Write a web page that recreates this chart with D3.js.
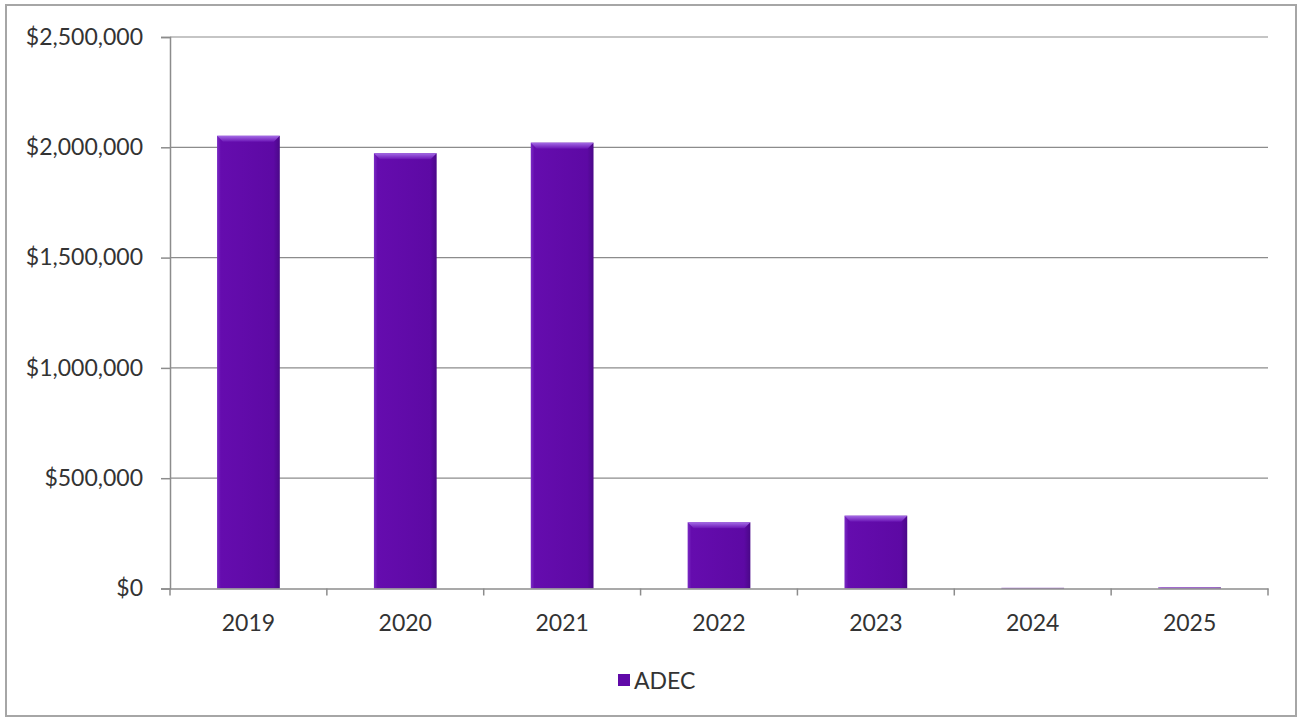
<!DOCTYPE html>
<html><head><meta charset="utf-8">
<script src="https://cdn.jsdelivr.net/npm/d3@7"></script>
<style>body{margin:0;background:#fff}svg{display:block}text{font-family:Lato,"Open Sans",sans-serif}</style>
</head><body>
<svg id="c" width="1297" height="719"></svg>
<script>
const categories = ["2019","2020","2021","2022","2023","2024","2025"];
const values = [2052000, 1973000, 2021000, 300000, 330000, 3000, 5000];
const yTicks = [0, 500000, 1000000, 1500000, 2000000, 2500000];
const seriesName = "ADEC";

const svg = d3.select("#c");
const m = {l:170, r:1268, t:37, b:588.5};
const FS = 23;
svg.append("rect").attr("x",6).attr("y",5).attr("width",1290).attr("height",711)
  .attr("fill","#fff").attr("stroke","#a6a6a6").attr("stroke-width",2);

const defs = svg.append("defs");
const gh = defs.append("linearGradient").attr("id","gh");
gh.append("stop").attr("offset","0").attr("stop-color","#7a2bc4");
gh.append("stop").attr("offset","0.06").attr("stop-color","#650cae");
gh.append("stop").attr("offset","0.9").attr("stop-color","#5d09a4");
gh.append("stop").attr("offset","1").attr("stop-color","#4a0888");
const gt = defs.append("linearGradient").attr("id","gt").attr("x1",0).attr("x2",0).attr("y1",0).attr("y2",1);
gt.append("stop").attr("offset","0").attr("stop-color","#a46be6");
gt.append("stop").attr("offset","1").attr("stop-color","#6a14b4");

const x = d3.scaleBand().domain(categories).range([m.l, m.r]).paddingInner(0.6).paddingOuter(0.3);
const xb = d3.scaleBand().domain(categories).range([m.l, m.r]);
const y = d3.scaleLinear().domain([0,2500000]).range([m.b, m.t]);
const fmt = d => "$" + d3.format(",")(d);

// gridlines
svg.append("g").selectAll("line").data(yTicks.filter(d=>d>0)).join("line")
  .attr("x1",m.l).attr("x2",m.r).attr("y1",d=>y(d)).attr("y2",d=>y(d))
  .attr("stroke","#8c8c8c").attr("stroke-width",1.2);

// y axis
const ya = svg.append("g").attr("transform",`translate(${m.l},0)`)
  .call(d3.axisLeft(y).tickValues(yTicks).tickFormat(fmt).tickSize(9).tickPadding(18));
ya.select(".domain").attr("stroke","#8c8c8c").attr("stroke-width",1.5);
ya.selectAll(".tick line").attr("stroke","#8c8c8c").attr("stroke-width",1.5);
ya.selectAll("text").attr("font-size",FS).attr("fill","#333").attr("font-family","Lato, 'Open Sans', sans-serif");

// bars
const bars = svg.append("g").selectAll("g").data(categories.map((c,i)=>({c,v:values[i]}))).join("g");
bars.append("rect").attr("x",d=>x(d.c)).attr("width",x.bandwidth())
  .attr("y",d=>y(d.v)).attr("height",d=>y(0)-y(d.v)).attr("fill","url(#gh)");
bars.filter(d=>y(0)-y(d.v)>10).append("path")
  .attr("d",d=>{const x0=x(d.c),w=x.bandwidth(),t=y(d.v),h=6;
    return `M${x0},${t}L${x0+w},${t}L${x0+w-h},${t+h}L${x0+h},${t+h}Z`;})
  .attr("fill","url(#gt)");

// x axis
const xa = svg.append("g").attr("transform",`translate(0,${m.b})`)
  .call(d3.axisBottom(xb).tickSize(0).tickPadding(26));
xa.select(".domain").attr("stroke","#8c8c8c").attr("stroke-width",1.5);
xa.selectAll("text").attr("font-size",FS).attr("fill","#333").attr("font-family","Lato, 'Open Sans', sans-serif");
svg.append("g").selectAll("line").data(d3.range(categories.length+1)).join("line")
  .attr("x1",i=>m.l+i*xb.step()).attr("x2",i=>m.l+i*xb.step())
  .attr("y1",m.b).attr("y2",m.b+7).attr("stroke","#8c8c8c").attr("stroke-width",1.5);

// legend
const lg = svg.append("g").attr("transform","translate(618,674)");
lg.append("rect").attr("width",12).attr("height",12).attr("fill","#6009a8");
lg.append("text").attr("x",16).attr("y",15).attr("font-size",FS).attr("fill","#333").text(seriesName);
</script>
</body></html>
